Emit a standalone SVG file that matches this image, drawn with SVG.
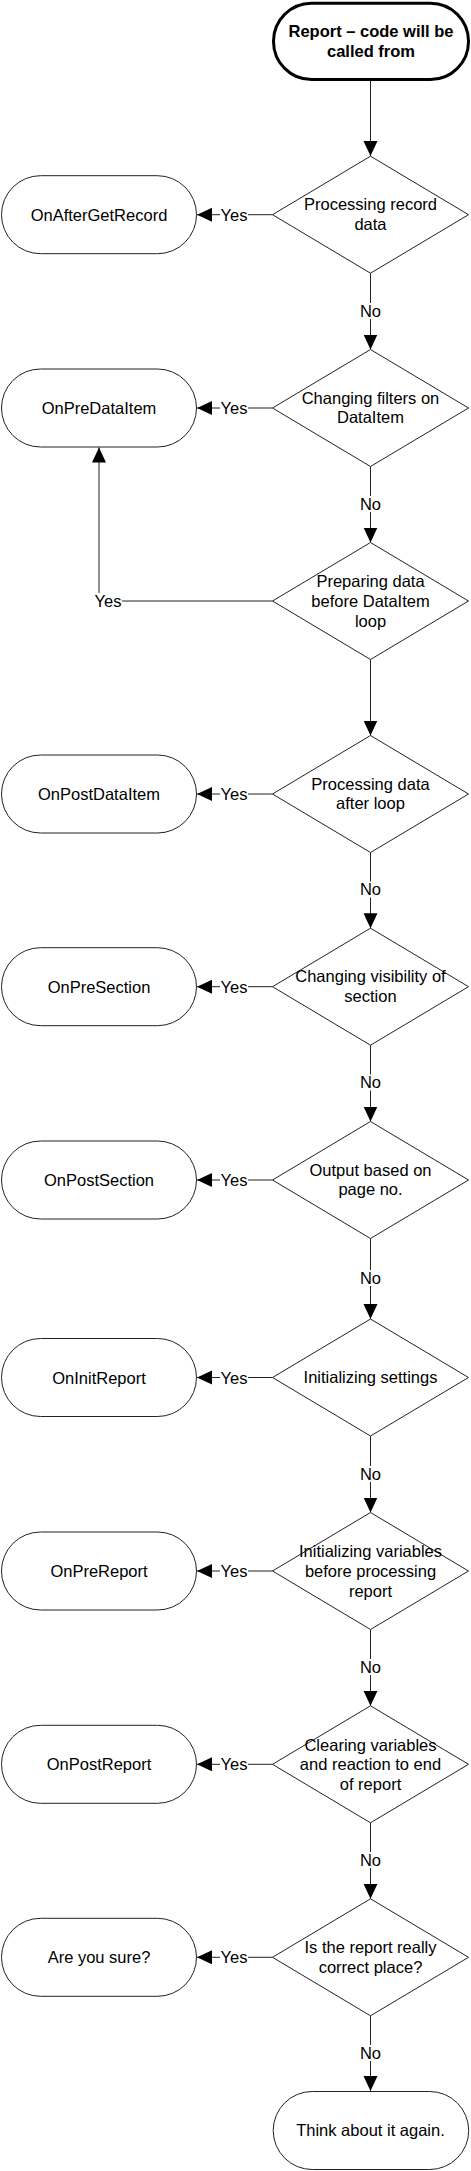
<svg xmlns="http://www.w3.org/2000/svg" width="471" height="2171" viewBox="0 0 471 2171">
<style>
.t{font-family:"Liberation Sans",Arial,sans-serif;font-size:16.5px;fill:#000;text-anchor:middle}
.b{font-weight:bold}
.term{fill:#fff;stroke:#222;stroke-width:1}
.dia{fill:#fff;stroke:#222;stroke-width:1}
.ln{fill:none;stroke:#222;stroke-width:1}
.bg{fill:#fff}
</style>
<defs>
<marker id="ah" markerUnits="userSpaceOnUse" markerWidth="16" markerHeight="15" refX="15" refY="7" orient="auto">
<path d="M0,0 L15,7 L0,14 z" fill="#000"/>
</marker>
</defs>
<rect width="471" height="2171" fill="#fff"/>
<g id="connectors">
<line class="ln" x1="370.5" y1="81" x2="370.5" y2="156" marker-end="url(#ah)"/>
<line class="ln" x1="370.5" y1="273.2" x2="370.5" y2="349.5" marker-end="url(#ah)"/>
<line class="ln" x1="370.5" y1="466.5" x2="370.5" y2="542.5" marker-end="url(#ah)"/>
<line class="ln" x1="370.5" y1="659.5" x2="370.5" y2="735.5" marker-end="url(#ah)"/>
<line class="ln" x1="370.5" y1="852.5" x2="370.5" y2="928.2" marker-end="url(#ah)"/>
<line class="ln" x1="370.5" y1="1045.2" x2="370.5" y2="1121.5" marker-end="url(#ah)"/>
<line class="ln" x1="370.5" y1="1238.5" x2="370.5" y2="1319" marker-end="url(#ah)"/>
<line class="ln" x1="370.5" y1="1436" x2="370.5" y2="1512.5" marker-end="url(#ah)"/>
<line class="ln" x1="370.5" y1="1629.5" x2="370.5" y2="1705.8" marker-end="url(#ah)"/>
<line class="ln" x1="370.5" y1="1822.8" x2="370.5" y2="1898.8" marker-end="url(#ah)"/>
<line class="ln" x1="370.5" y1="2015.8" x2="370.5" y2="2091" marker-end="url(#ah)"/>
<line class="ln" x1="272.5" y1="214.7" x2="197" y2="214.7" marker-end="url(#ah)"/>
<line class="ln" x1="272.5" y1="408" x2="197" y2="408" marker-end="url(#ah)"/>
<polyline class="ln" points="272.5,601 99,601 99,447.5" marker-end="url(#ah)"/>
<line class="ln" x1="272.5" y1="794" x2="197" y2="794" marker-end="url(#ah)"/>
<line class="ln" x1="272.5" y1="986.7" x2="197" y2="986.7" marker-end="url(#ah)"/>
<line class="ln" x1="272.5" y1="1180" x2="197" y2="1180" marker-end="url(#ah)"/>
<line class="ln" x1="272.5" y1="1377.5" x2="197" y2="1377.5" marker-end="url(#ah)"/>
<line class="ln" x1="272.5" y1="1571" x2="197" y2="1571" marker-end="url(#ah)"/>
<line class="ln" x1="272.5" y1="1764.3" x2="197" y2="1764.3" marker-end="url(#ah)"/>
<line class="ln" x1="272.5" y1="1957.3" x2="197" y2="1957.3" marker-end="url(#ah)"/>
<g id="labels">
<rect class="bg" x="360" y="303" width="21" height="16"/><text class="t" x="370.5" y="316.7">No</text>
<rect class="bg" x="360" y="496" width="21" height="16"/><text class="t" x="370.5" y="509.8">No</text>
<rect class="bg" x="360" y="881.5" width="21" height="16"/><text class="t" x="370.5" y="895.3">No</text>
<rect class="bg" x="360" y="1074.5" width="21" height="16"/><text class="t" x="370.5" y="1088.3">No</text>
<rect class="bg" x="360" y="1270" width="21" height="16"/><text class="t" x="370.5" y="1283.7">No</text>
<rect class="bg" x="360" y="1466" width="21" height="16"/><text class="t" x="370.5" y="1480">No</text>
<rect class="bg" x="360" y="1659" width="21" height="16"/><text class="t" x="370.5" y="1672.7">No</text>
<rect class="bg" x="360" y="1852" width="21" height="16"/><text class="t" x="370.5" y="1866">No</text>
<rect class="bg" x="360" y="2045" width="21" height="16"/><text class="t" x="370.5" y="2058.7">No</text>
<rect class="bg" x="220" y="206.7" width="28" height="16"/><text class="t" x="234" y="220.7">Yes</text>
<rect class="bg" x="220" y="400" width="28" height="16"/><text class="t" x="234" y="414">Yes</text>
<rect class="bg" x="94" y="593" width="28" height="16"/><text class="t" x="108" y="607">Yes</text>
<rect class="bg" x="220" y="786" width="28" height="16"/><text class="t" x="234" y="800">Yes</text>
<rect class="bg" x="220" y="978.7" width="28" height="16"/><text class="t" x="234" y="992.7">Yes</text>
<rect class="bg" x="220" y="1172" width="28" height="16"/><text class="t" x="234" y="1186">Yes</text>
<rect class="bg" x="220" y="1369.5" width="28" height="16"/><text class="t" x="234" y="1383.5">Yes</text>
<rect class="bg" x="220" y="1563" width="28" height="16"/><text class="t" x="234" y="1577">Yes</text>
<rect class="bg" x="220" y="1756.3" width="28" height="16"/><text class="t" x="234" y="1770.3">Yes</text>
<rect class="bg" x="220" y="1949.3" width="28" height="16"/><text class="t" x="234" y="1963.3">Yes</text>
</g>
</g>
<g id="start">
<rect x="273.5" y="3.2" width="195" height="76.3" rx="38" ry="38" fill="#fff" stroke="#000" stroke-width="3"/>
<text class="t b" x="371" y="37">Report – code will be</text>
<text class="t b" x="371" y="57">called from</text>
</g>
<g id="d1"><polygon class="dia" points="370.5,156.2 468.5,214.7 370.5,273.2 272.5,214.7"/>
<text class="t" x="370.5" y="210.2">Processing record</text><text class="t" x="370.5" y="229.9">data</text></g>
<g id="d2"><polygon class="dia" points="370.5,349.5 468.5,408 370.5,466.5 272.5,408"/>
<text class="t" x="370.5" y="403.5">Changing filters on</text><text class="t" x="370.5" y="423.2">DataItem</text></g>
<g id="d3"><polygon class="dia" points="370.5,542.5 468.5,601 370.5,659.5 272.5,601"/>
<text class="t" x="370.5" y="587.3">Preparing data</text><text class="t" x="370.5" y="607">before DataItem</text><text class="t" x="370.5" y="626.7">loop</text></g>
<g id="d4"><polygon class="dia" points="370.5,735.5 468.5,794 370.5,852.5 272.5,794"/>
<text class="t" x="370.5" y="789.5">Processing data</text><text class="t" x="370.5" y="809.2">after loop</text></g>
<g id="d5"><polygon class="dia" points="370.5,928.2 468.5,986.7 370.5,1045.2 272.5,986.7"/>
<text class="t" x="370.5" y="982.2">Changing visibility of</text><text class="t" x="370.5" y="1001.9">section</text></g>
<g id="d6"><polygon class="dia" points="370.5,1121.5 468.5,1180 370.5,1238.5 272.5,1180"/>
<text class="t" x="370.5" y="1175.5">Output based on</text><text class="t" x="370.5" y="1195.2">page no.</text></g>
<g id="d7"><polygon class="dia" points="370.5,1319 468.5,1377.5 370.5,1436 272.5,1377.5"/>
<text class="t" x="370.5" y="1383.3">Initializing settings</text></g>
<g id="d8"><polygon class="dia" points="370.5,1512.5 468.5,1571 370.5,1629.5 272.5,1571"/>
<text class="t" x="370.5" y="1557.3">Initializing variables</text><text class="t" x="370.5" y="1577">before processing</text><text class="t" x="370.5" y="1596.7">report</text></g>
<g id="d9"><polygon class="dia" points="370.5,1705.8 468.5,1764.3 370.5,1822.8 272.5,1764.3"/>
<text class="t" x="370.5" y="1750.6">Clearing variables</text><text class="t" x="370.5" y="1770.3">and reaction to end</text><text class="t" x="370.5" y="1790">of report</text></g>
<g id="d10"><polygon class="dia" points="370.5,1898.8 468.5,1957.3 370.5,2015.8 272.5,1957.3"/>
<text class="t" x="370.5" y="1952.8">Is the report really</text><text class="t" x="370.5" y="1972.5">correct place?</text></g>
<g id="t1"><rect class="term" x="1.5" y="175.7" width="195" height="78" rx="39" ry="39"/><text class="t" x="99" y="220.7">OnAfterGetRecord</text></g>
<g id="t2"><rect class="term" x="1.5" y="369" width="195" height="78" rx="39" ry="39"/><text class="t" x="99" y="414">OnPreDataItem</text></g>
<g id="t4"><rect class="term" x="1.5" y="755" width="195" height="78" rx="39" ry="39"/><text class="t" x="99" y="800">OnPostDataItem</text></g>
<g id="t5"><rect class="term" x="1.5" y="947.7" width="195" height="78" rx="39" ry="39"/><text class="t" x="99" y="992.7">OnPreSection</text></g>
<g id="t6"><rect class="term" x="1.5" y="1141" width="195" height="78" rx="39" ry="39"/><text class="t" x="99" y="1186">OnPostSection</text></g>
<g id="t7"><rect class="term" x="1.5" y="1338.5" width="195" height="78" rx="39" ry="39"/><text class="t" x="99" y="1383.5">OnInitReport</text></g>
<g id="t8"><rect class="term" x="1.5" y="1532" width="195" height="78" rx="39" ry="39"/><text class="t" x="99" y="1577">OnPreReport</text></g>
<g id="t9"><rect class="term" x="1.5" y="1725.3" width="195" height="78" rx="39" ry="39"/><text class="t" x="99" y="1770.3">OnPostReport</text></g>
<g id="t10"><rect class="term" x="1.5" y="1918.3" width="195" height="78" rx="39" ry="39"/><text class="t" x="99" y="1963.3">Are you sure?</text></g>
<g id="end"><rect class="term" x="273.2" y="2091.5" width="195.5" height="78" rx="39" ry="39"/><text class="t" x="370.5" y="2136">Think about it again.</text></g>
</svg>
